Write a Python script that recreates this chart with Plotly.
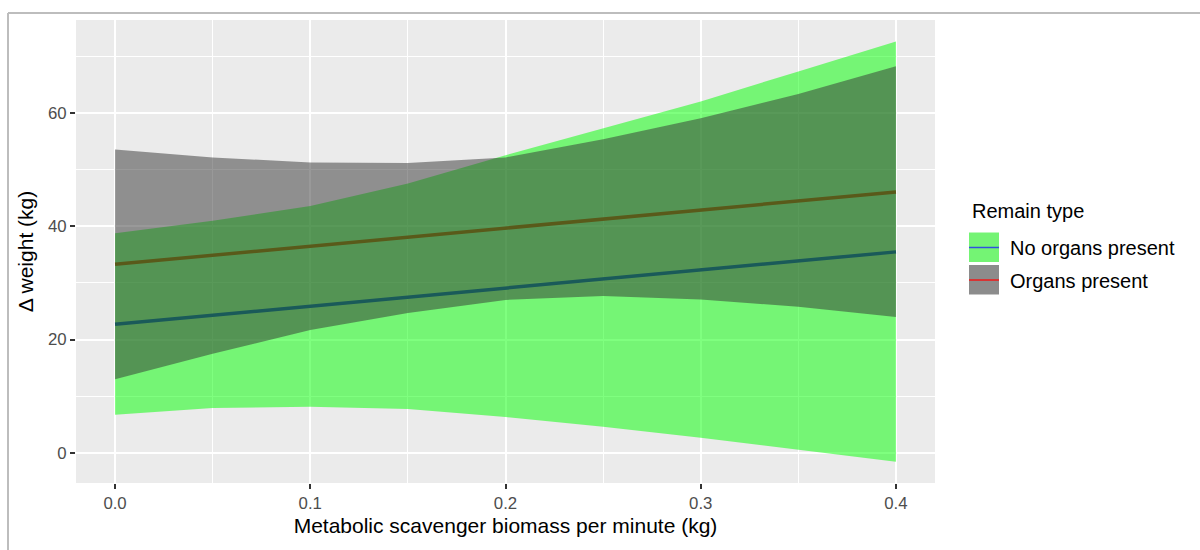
import plotly.graph_objects as go

# ---- data ----
x_vals = [0.0, 0.05, 0.10, 0.15, 0.20, 0.25, 0.30, 0.35, 0.40]

no_organs_fit = [22.7, 24.3, 25.9, 27.5, 29.1, 30.7, 32.3, 33.9, 35.5]
no_organs_upper = [38.8, 41.0, 43.6, 47.6, 52.6, 57.4, 62.1, 67.4, 72.7]
no_organs_lower = [6.7, 7.9, 8.1, 7.7, 6.3, 4.6, 2.65, 0.5, -1.6]

organs_fit = [33.3, 34.9, 36.5, 38.1, 39.7, 41.3, 42.9, 44.5, 46.1]
organs_upper = [53.6, 52.2, 51.3, 51.2, 52.2, 55.4, 59.1, 63.4, 68.3]
organs_lower = [13.0, 17.5, 21.7, 24.7, 27.0, 27.7, 27.1, 25.8, 24.0]

series_names = ["No organs present", "Organs present"]
legend_title = "Remain type"
x_tick_vals = [0.0, 0.1, 0.2, 0.3, 0.4]
x_tick_text = ["0.0", "0.1", "0.2", "0.3", "0.4"]
y_tick_vals = [0, 20, 40, 60]
y_tick_text = ["0", "20", "40", "60"]

# ---- styling ----
FONT = "Liberation Sans, Arial, sans-serif"
W, H = 1200, 550
L, R, T, B = 76, 935, 20, 483  # plot area in pixels


def px(xp):
    return (xp - L) / (R - L)


def py(yp):
    return (B - yp) / (B - T)


fig = go.Figure()

# lines first (drawn underneath the ribbons, as in the original)
fig.add_trace(go.Scatter(x=x_vals, y=no_organs_fit, mode="lines",
                         line=dict(color="rgb(0,0,255)", width=3.5),
                         showlegend=False, hoverinfo="skip"))
fig.add_trace(go.Scatter(x=x_vals, y=organs_fit, mode="lines",
                         line=dict(color="rgb(255,0,0)", width=3.5),
                         showlegend=False, hoverinfo="skip"))

# ribbons
fig.add_trace(go.Scatter(x=x_vals + x_vals[::-1],
                         y=no_organs_upper + no_organs_lower[::-1],
                         fill="toself", fillcolor="rgba(0,255,0,0.5)",
                         line=dict(width=0), mode="lines",
                         showlegend=False, hoverinfo="skip"))
fig.add_trace(go.Scatter(x=x_vals + x_vals[::-1],
                         y=organs_upper + organs_lower[::-1],
                         fill="toself", fillcolor="rgba(51,51,51,0.5)",
                         line=dict(width=0), mode="lines",
                         showlegend=False, hoverinfo="skip"))

shapes = []
annotations = []

# screenshot frame lines
shapes.append(dict(type="line", xref="paper", yref="paper",
                   x0=px(8), x1=px(1200), y0=py(13), y1=py(13),
                   line=dict(color="#BDBDBD", width=2), layer="above"))
shapes.append(dict(type="line", xref="paper", yref="paper",
                   x0=px(8), x1=px(8), y0=py(13), y1=py(550),
                   line=dict(color="#BDBDBD", width=2), layer="above"))

# manual legend (ggplot style: fill key + line)
annotations.append(dict(text=legend_title, xref="paper", yref="paper",
                        x=px(970), y=py(211), xanchor="left", yanchor="middle",
                        showarrow=False, font=dict(family=FONT, size=20, color="#000000")))
key_fills = ["#74F474", "#8C8C8C"]
key_lines = ["#3050E0", "#F01818"]
key_tops = [232.5, 265.0]
for name, kf, kl, kt in zip(series_names, key_fills, key_lines, key_tops):
    shapes.append(dict(type="rect", xref="paper", yref="paper",
                       x0=px(969), x1=px(999), y0=py(kt), y1=py(kt + 29.5),
                       fillcolor=kf, line=dict(width=0), layer="above"))
    shapes.append(dict(type="line", xref="paper", yref="paper",
                       x0=px(969), x1=px(999), y0=py(kt + 15), y1=py(kt + 15),
                       line=dict(color=kl, width=1.5), layer="above"))
    annotations.append(dict(text=name, xref="paper", yref="paper",
                            x=px(1008), y=py(kt + 16), xanchor="left", yanchor="middle",
                            showarrow=False,
                            font=dict(family=FONT, size=20, color="#000000")))

fig.update_layout(
    width=W, height=H,
    margin=dict(l=L, r=W - R, t=T, b=H - B, autoexpand=False),
    paper_bgcolor="white",
    plot_bgcolor="#EBEBEB",
    showlegend=False,
    font=dict(family=FONT),
    shapes=shapes,
    annotations=annotations,
)

fig.update_xaxes(
    range=[-0.02, 0.42],
    tickvals=x_tick_vals, ticktext=x_tick_text,
    showgrid=True, gridcolor="white", gridwidth=1.5,
    minor=dict(dtick=0.05, tick0=0, showgrid=True, gridcolor="white", gridwidth=0.7),
    zeroline=False, showline=False,
    ticks="outside", ticklen=5, tickwidth=1.5, tickcolor="#333333",
    tickfont=dict(family=FONT, size=16.8, color="#4D4D4D"),
    title=dict(text="Metabolic scavenger biomass per minute (kg)",
               font=dict(family=FONT, size=21, color="#000000"), standoff=6),
    automargin=False,
)
fig.update_yaxes(
    range=[-5.36, 76.49],
    tickvals=y_tick_vals, ticktext=y_tick_text,
    showgrid=True, gridcolor="white", gridwidth=1.5,
    minor=dict(dtick=10, tick0=0, showgrid=True, gridcolor="white", gridwidth=0.7),
    zeroline=False, showline=False,
    ticks="outside", ticklen=5, tickwidth=1.5, tickcolor="#333333",
    tickfont=dict(family=FONT, size=16.8, color="#4D4D4D"),
    title=dict(text="Δ weight (kg)",
               font=dict(family=FONT, size=21, color="#000000"), standoff=8),
    automargin=False,
)

fig.write_html("out.html")
